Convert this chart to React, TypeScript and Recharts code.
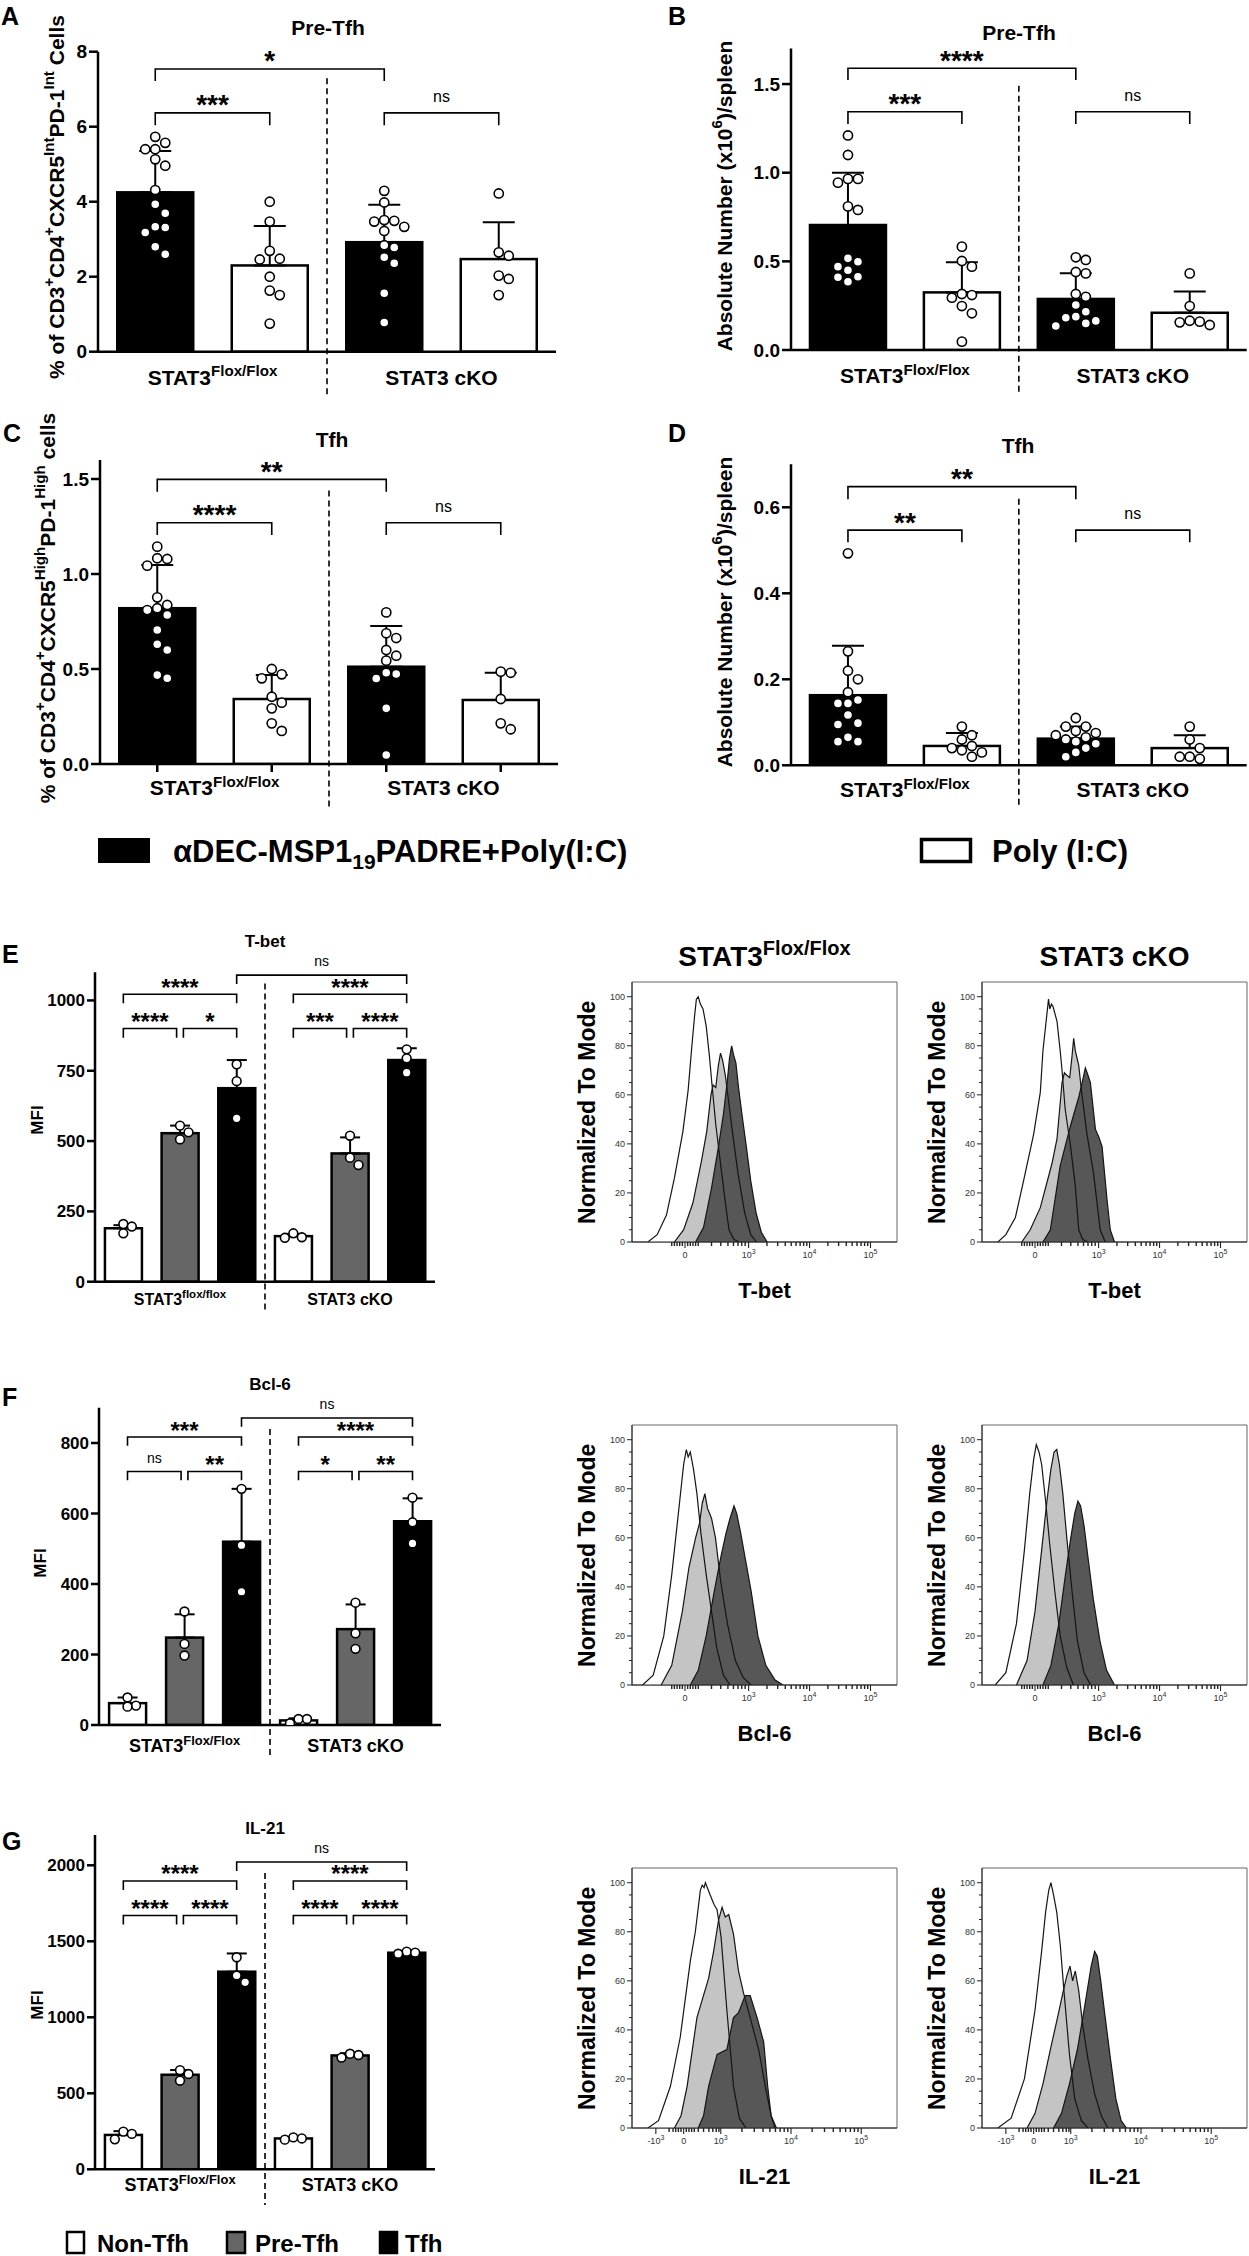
import React from "react";
import {
  Area,
  Bar,
  Cell,
  ComposedChart,
  ErrorBar,
  Line,
  ReferenceArea,
  ReferenceDot,
  ReferenceLine,
  Scatter,
  XAxis,
  YAxis,
} from "recharts";

const FONT = "'Liberation Sans', Arial, Helvetica, sans-serif";

// ---------- A–D: vaccinated (black) vs Poly(I:C) (white), Flox/Flox vs cKO ----------
const adX = [1, 2, 3, 4];
const adFill = ["#000", "#fff", "#000", "#fff"];
const adGroups = [
  { at: 1.5, main: "STAT3", sup: "Flox/Flox" },
  { at: 3.5, main: "STAT3 cKO" },
];

const preTfhPctMean = [4.25, 2.3, 2.92, 2.47];
const preTfhPctSd = [1.1, 1.05, 1.0, 0.98];
const preTfhPctDots = [
  [5.73, 5.57, 5.4, 5.4, 5.13, 4.96, 4.31, 3.93, 3.69, 3.33, 3.31, 3.18, 2.8, 2.6],
  [4.0, 3.47, 2.69, 2.48, 2.46, 2.0, 1.63, 1.51, 0.75],
  [4.29, 3.98, 3.51, 3.49, 3.33, 3.47, 3.22, 2.84, 2.78, 2.52, 2.36, 1.56, 0.78],
  [4.22, 2.65, 2.56, 2.03, 1.94, 1.51],
];
const preTfhPctBrackets = [
  [1, 3, 7.54, 7.22, "*"],
  [1, 2, 6.37, 6.04, "***"],
  [3, 4, 6.37, 6.04, "ns"],
];

const preTfhAbsMean = [0.705, 0.325, 0.288, 0.21];
const preTfhAbsSd = [0.295, 0.17, 0.145, 0.12];
const preTfhAbsDots = [
  [1.21, 1.1, 0.965, 0.944, 0.965, 0.79, 0.81, 0.517, 0.498, 0.47, 0.45, 0.413, 0.41, 0.385],
  [0.583, 0.502, 0.47, 0.316, 0.295, 0.31, 0.207, 0.248, 0.047],
  [0.523, 0.508, 0.432, 0.44, 0.316, 0.3, 0.188, 0.216, 0.254, 0.164, 0.182, 0.15, 0.135],
  [0.432, 0.248, 0.141, 0.165, 0.156, 0.16],
];
const preTfhAbsBrackets = [
  [1, 3, 1.589, 1.523, "****"],
  [1, 2, 1.344, 1.275, "***"],
  [3, 4, 1.344, 1.275, "ns"],
];

const tfhPctMean = [0.82, 0.342, 0.512, 0.337];
const tfhPctSd = [0.227, 0.126, 0.214, 0.143];
const tfhPctDots = [
  [1.144, 1.079, 1.083, 1.044, 0.877, 0.837, 0.82, 0.81, 0.784, 0.705, 0.63, 0.6, 0.468, 0.451],
  [0.5, 0.472, 0.451, 0.354, 0.323, 0.293, 0.214, 0.174],
  [0.798, 0.688, 0.663, 0.6, 0.57, 0.544, 0.48, 0.474, 0.45, 0.293, 0.047],
  [0.486, 0.48, 0.342, 0.214, 0.183],
];
const tfhPctBrackets = [
  [1, 3, 1.498, 1.433, "**"],
  [1, 2, 1.27, 1.205, "****"],
  [3, 4, 1.27, 1.205, "ns"],
];

const tfhAbsMean = [0.163, 0.045, 0.062, 0.04];
const tfhAbsSd = [0.115, 0.03, 0.028, 0.03];
const tfhAbsDots = [
  [0.493, 0.265, 0.22, 0.2, 0.17, 0.152, 0.144, 0.144, 0.117, 0.098, 0.095, 0.065, 0.055, 0.055],
  [0.09, 0.07, 0.06, 0.045, 0.04, 0.035, 0.03, 0.02],
  [0.11, 0.09, 0.09, 0.08, 0.075, 0.07, 0.065, 0.06, 0.055, 0.05, 0.04, 0.03, 0.02],
  [0.09, 0.06, 0.04, 0.02, 0.02, 0.015],
];
const tfhAbsBrackets = [
  [1, 3, 0.648, 0.619, "**"],
  [1, 2, 0.547, 0.519, "**"],
  [3, 4, 0.547, 0.519, "ns"],
];

// ---------- E–G: MFI of Non-Tfh / Pre-Tfh / Tfh ----------
const efgX = [1, 2, 3, 4, 5, 6];
const efgFill = ["#fff", "#666", "#000", "#fff", "#666", "#000"];

const tbetMean = [190, 528, 688, 162, 456, 788];
const tbetSd = [11, 27, 100, 8, 57, 42];
const tbetDots = [
  [205, 196, 172],
  [555, 531, 506],
  [773, 713, 581],
  [158, 172, 156],
  [519, 441, 415],
  [826, 794, 743],
];
const tbetBrackets = [
  [1, 1.94, 900, 867, "****"],
  [2.06, 3, 900, 867, "*"],
  [4, 4.94, 900, 867, "***"],
  [5.06, 6, 900, 867, "****"],
  [1, 3, 1022, 990, "****"],
  [4, 6, 1022, 990, "****"],
  [3, 6, 1090, 1058, "ns"],
];

const bcl6Mean = [62, 248, 520, 13, 272, 578];
const bcl6Sd = [16, 66, 150, 6, 70, 65];
const bcl6Dots = [
  [78, 52, 55],
  [322, 230, 197],
  [670, 510, 378],
  [5, 17, 17],
  [347, 260, 216],
  [645, 575, 515],
];
const bcl6Brackets = [
  [1, 1.94, 719, 694, "ns"],
  [2.06, 3, 719, 694, "**"],
  [4, 4.94, 719, 694, "*"],
  [5.06, 6, 719, 694, "**"],
  [1, 3, 817, 792, "***"],
  [4, 6, 817, 792, "****"],
  [3, 6, 871, 846, "ns"],
];

const il21Mean = [226, 622, 1300, 203, 749, 1425];
const il21Sd = [25, 31, 120, 10, 15, 12];
const il21Dots = [
  [197, 248, 233],
  [652, 627, 583],
  [1395, 1275, 1230],
  [195, 210, 203],
  [752, 760, 735],
  [1432, 1425, 1418],
];
const il21Brackets = [
  [1, 1.94, 1670, 1610, "****"],
  [2.06, 3, 1670, 1610, "****"],
  [4, 4.94, 1670, 1610, "****"],
  [5.06, 6, 1670, 1610, "****"],
  [1, 3, 1897, 1838, "****"],
  [4, 6, 1897, 1838, "****"],
  [3, 6, 2022, 1963, "ns"],
];

// ---------- flow histograms (x = display channel 0–1000, y = % of mode) ----------
const tbetFloxNon = [[60, 0], [95, 3], [130, 11], [160, 26], [192, 45], [212, 62], [226, 80], [236, 92], [243, 99], [250, 100], [258, 97], [268, 95], [280, 88], [292, 76], [302, 64], [316, 48], [333, 33], [350, 18], [366, 5], [385, 1], [405, 0]];
const tbetFloxPre = [[160, 0], [195, 5], [230, 16], [262, 33], [282, 45], [298, 60], [306, 64], [316, 63], [326, 72], [334, 77], [342, 74], [352, 68], [364, 58], [380, 44], [400, 28], [425, 12], [448, 3], [470, 0]];
const tbetFloxTfh = [[240, 0], [270, 6], [300, 22], [325, 38], [345, 52], [360, 66], [368, 75], [376, 80], [384, 76], [392, 73], [402, 63], [415, 52], [430, 40], [448, 25], [468, 12], [488, 4], [510, 0]];

const tbetCkoNon = [[60, 0], [90, 3], [126, 10], [157, 25], [195, 44], [220, 61], [230, 78], [245, 93], [251, 99], [256, 95], [262, 97], [268, 96], [283, 90], [295, 78], [302, 70], [314, 54], [333, 40], [352, 23], [365, 5], [380, 1], [400, 0]];
const tbetCkoPre = [[150, 0], [182, 5], [220, 14], [264, 32], [283, 42], [302, 65], [311, 69], [320, 68], [331, 67], [339, 75], [346, 83], [352, 78], [365, 72], [374, 63], [396, 44], [421, 28], [446, 5], [465, 0]];
const tbetCkoTfh = [[230, 0], [258, 5], [295, 31], [333, 47], [365, 59], [380, 66], [390, 71], [400, 68], [409, 65], [428, 46], [440, 43], [453, 39], [472, 17], [484, 5], [500, 0]];

const bcl6FloxNon = [[40, 0], [80, 4], [120, 20], [150, 45], [170, 65], [185, 80], [195, 90], [205, 96], [212, 93], [220, 95], [232, 88], [245, 78], [260, 62], [280, 45], [300, 30], [320, 15], [345, 4], [370, 0]];
const bcl6FloxPre = [[110, 0], [150, 8], [190, 30], [215, 48], [240, 60], [255, 66], [265, 74], [275, 78], [285, 72], [300, 68], [315, 60], [335, 42], [360, 25], [390, 10], [420, 3], [450, 0]];
const bcl6FloxTfh = [[220, 0], [250, 6], [280, 20], [310, 38], [335, 52], [355, 62], [370, 68], [385, 73], [395, 70], [410, 62], [430, 50], [450, 38], [475, 20], [505, 8], [540, 2], [570, 0]];

const bcl6CkoNon = [[50, 0], [90, 5], [130, 25], [160, 55], [180, 78], [195, 92], [205, 98], [215, 95], [225, 90], [240, 75], [255, 58], [275, 38], [295, 20], [320, 7], [345, 0]];
const bcl6CkoPre = [[130, 0], [170, 10], [200, 30], [225, 55], [245, 75], [260, 88], [272, 95], [282, 96], [292, 90], [305, 78], [320, 60], [340, 38], [360, 18], [385, 5], [410, 0]];
const bcl6CkoTfh = [[230, 0], [260, 8], [290, 25], [315, 45], [335, 60], [350, 70], [362, 75], [372, 73], [385, 65], [400, 52], [420, 35], [445, 18], [470, 6], [500, 0]];

const il21FloxNon = [[60, 0], [100, 3], [145, 17], [182, 37], [220, 68], [239, 80], [258, 97], [265, 99], [272, 98], [277, 100], [295, 95], [310, 91], [321, 89], [336, 78], [358, 48], [383, 17], [405, 4], [430, 0]];
const il21FloxPre = [[160, 0], [185, 5], [208, 17], [245, 45], [289, 61], [308, 72], [327, 85], [340, 90], [352, 86], [365, 87], [383, 79], [402, 64], [421, 55], [446, 45], [478, 32], [503, 17], [525, 5], [545, 0]];
const il21FloxTfh = [[250, 0], [270, 5], [289, 17], [321, 30], [358, 32], [383, 45], [402, 47], [427, 54], [446, 54], [472, 45], [497, 35], [512, 17], [525, 5], [540, 0]];

const il21CkoNon = [[60, 0], [110, 4], [160, 20], [200, 48], [225, 72], [240, 88], [252, 97], [260, 100], [270, 95], [282, 88], [295, 75], [310, 55], [330, 30], [350, 12], [375, 3], [400, 0]];
const il21CkoPre = [[170, 0], [200, 6], [230, 18], [260, 33], [285, 45], [305, 55], [320, 62], [332, 66], [342, 60], [352, 64], [365, 56], [380, 42], [400, 28], [425, 14], [450, 5], [475, 0]];
const il21CkoTfh = [[270, 0], [300, 6], [330, 18], [360, 32], [385, 48], [400, 58], [412, 66], [425, 72], [435, 70], [448, 60], [465, 45], [485, 28], [505, 12], [525, 3], [545, 0]];

const histYTicks = [0, 5, 10, 15, 20, 25, 30, 35, 40, 45, 50, 55, 60, 65, 70, 75, 80, 85, 90, 95, 100];
const stdMajor = [200, 440, 670, 900];
const stdLabels = [["0", ""], ["10", "3"], ["10", "4"], ["10", "5"]];
const il21Major = [90, 195, 335, 600, 865];
const il21Labels = [["-10", "3"], ["0", ""], ["10", "3"], ["10", "4"], ["10", "5"]];

// minor ticks: log decades plus the dense linear region round zero
const decade = (start: number, w: number) => [2, 3, 4, 5, 6, 7, 8, 9].map((k) => start + w * Math.log10(k));
const stdMinor = [
  150, 160, 170, 180, 190, 210, 220, 230, 240, 250,
  300, 335, 362, 383, 400, 414, 427,
  ...decade(440, 230),
  ...decade(670, 230),
];
const il21Minor = [
  140, 155, 165, 175, 185, 205, 215, 225, 235, 250,
  270, 290, 305, 318, 328,
  ...decade(335, 265),
  ...decade(600, 265),
];

// ---------- helpers ----------
function swarm(values: number[], center: number, pxX: number, pxY: number, step: number, minDist: number) {
  const placed: { dx: number; v: number }[] = [];
  const order = values.map((_, i) => i).sort((a, b) => values[b] - values[a]);
  for (const i of order) {
    const v = values[i];
    let dx = 0;
    for (let n = 0; n < 40; n++) {
      const cand = n === 0 ? 0 : (n % 2 ? 1 : -1) * Math.ceil(n / 2) * step;
      if (placed.every((p) => Math.hypot(p.dx - cand, (p.v - v) * pxY) >= minDist)) {
        dx = cand;
        break;
      }
    }
    placed.push({ dx, v });
  }
  return placed.map((p) => ({ x: center + p.dx / pxX, v: p.v }));
}

function GroupTick({ x, y, payload, groups, font, dy, marks }: any) {
  const g = groups.find((gr: any) => Math.abs(gr.at - payload.value) < 1e-6);
  if (!g) {
    return marks ? <line x1={x} x2={x} y1={y - 2} y2={y + 6} stroke="#000" strokeWidth={2.5} /> : <g />;
  }
  return (
    <text x={x} y={y + dy} textAnchor="middle" fontSize={font} fontWeight={700} fontFamily={FONT} fill="#000">
      {g.main}
      {g.sup && (
        <tspan dy={-font * 0.4} fontSize={font * 0.72}>
          {g.sup}
        </tspan>
      )}
    </text>
  );
}

function brackets(list: any[], o: { star: number; ns: number; nsLift: number; sw: number }) {
  return list.flatMap((b, i) => [
    <ReferenceArea
      key={`a${i}`}
      x1={b[0]}
      x2={b[1]}
      y1={b[3]}
      y2={b[2]}
      ifOverflow="visible"
      shape={(s: any) => (
        <path
          d={`M${s.x},${s.y + s.height}V${s.y}H${s.x + s.width}V${s.y + s.height}`}
          fill="none"
          stroke="#000"
          strokeWidth={o.sw}
        />
      )}
    />,
    <ReferenceDot
      key={`t${i}`}
      x={(b[0] + b[1]) / 2}
      y={b[2]}
      r={0}
      ifOverflow="visible"
      shape={(s: any) =>
        b[4] === "ns" ? (
          <text x={s.cx} y={s.cy - o.nsLift} textAnchor="middle" fontSize={o.ns} fontFamily={FONT} fill="#000">
            ns
          </text>
        ) : (
          <text x={s.cx} y={s.cy + 1.5} textAnchor="middle" fontSize={o.star} fontWeight={700} fontFamily={FONT} fill="#000">
            {b[4]}
          </text>
        )
      }
    />,
  ]);
}

function BarDots(p: any) {
  const g = p.geo;
  const pxX = (g.pr - g.pl) / (p.xDomain[1] - p.xDomain[0]);
  const pxY = (g.pb - g.pt) / (p.yDomain[1] - p.yDomain[0]);
  const bars = p.xs.map((x: number, i: number) => ({ x, m: p.means[i], err: [0, p.sd[i]] }));
  const dots = p.dots.flatMap((vals: number[], i: number) => swarm(vals, p.xs[i], pxX, pxY, p.step, p.minDist));
  const ticks = [...p.groups.map((gr: any) => gr.at), ...(p.barTicks ? p.xs : [])];
  const r = p.dotR;
  const bw = p.barSize;
  return (
    <div style={{ position: "absolute", left: g.left, top: g.top }}>
      <ComposedChart
        width={g.width}
        height={g.height}
        data={bars}
        margin={{ top: g.pt - g.top, right: g.left + g.width - g.pr, bottom: 0, left: 0 }}
      >
        <XAxis
          type="number"
          dataKey="x"
          domain={p.xDomain}
          allowDataOverflow
          ticks={ticks}
          interval={0}
          height={g.top + g.height - g.pb}
          tickLine={false}
          tickSize={0}
          axisLine={{ stroke: "#000", strokeWidth: 2.5 }}
          tick={(t: any) => <GroupTick {...t} groups={p.groups} font={p.groupFont} dy={p.groupDy} marks={p.barTicks} />}
        />
        <YAxis
          type="number"
          domain={p.yDomain}
          allowDataOverflow
          ticks={p.yTicks}
          interval={0}
          width={g.pl - g.left}
          tickSize={p.tickSize}
          tickFormatter={p.fmt}
          tick={{ fontSize: p.tickFont, fontWeight: 700, fill: "#000", fontFamily: FONT }}
          tickLine={{ stroke: "#000", strokeWidth: 2.5 }}
          axisLine={{ stroke: "#000", strokeWidth: 2.5 }}
        />
        <ReferenceLine
          segment={[
            { x: p.divider[0], y: p.divider[1] },
            { x: p.divider[0], y: p.divider[2] },
          ]}
          ifOverflow="visible"
          stroke="#000"
          strokeWidth={1.6}
          strokeDasharray="6 4"
        />
        <Bar
          dataKey="m"
          isAnimationActive={false}
          shape={(s: any) => (
            <rect
              x={s.x + s.width / 2 - bw / 2}
              y={s.y}
              width={bw}
              height={Math.max(0, s.height)}
              fill={s.fill}
              stroke="#000"
              strokeWidth={2.5}
            />
          )}
        >
          {p.fills.map((f: string, i: number) => (
            <Cell key={i} fill={f} />
          ))}
          <ErrorBar dataKey="err" width={p.capHalf} stroke="#000" strokeWidth={2} direction="y" />
        </Bar>
        <Scatter
          data={dots}
          dataKey="v"
          isAnimationActive={false}
          shape={(s: any) => <circle cx={s.cx} cy={s.cy} r={r} fill="#fff" stroke="#000" strokeWidth={1.6} />}
        />
        {brackets(p.brackets, p.br)}
      </ComposedChart>
    </div>
  );
}

function HistXTick({ x, y, payload, major, labels }: any) {
  const idx = major.findIndex((m: number) => Math.abs(m - payload.value) < 1e-6);
  const isMajor = idx >= 0;
  const lab = isMajor ? labels[idx] : null;
  return (
    <g>
      <line x1={x} x2={x} y1={y - 2} y2={y + (isMajor ? 4 : 2)} stroke="#222" strokeWidth={isMajor ? 1.1 : 1.4} />
      {lab && (
        <text x={x} y={y + 14} textAnchor="middle" fontSize={9} fill="#333" fontFamily={FONT}>
          {lab[0]}
          {lab[1] && (
            <tspan dy={-4} fontSize={7}>
              {lab[1]}
            </tspan>
          )}
        </text>
      )}
    </g>
  );
}

function HistYTick({ x, y, payload }: any) {
  const v = payload.value;
  const major = v % 20 === 0;
  const ax = x + 2;
  return (
    <g>
      <line x1={ax} x2={ax - (major ? 5 : 3)} y1={y} y2={y} stroke="#222" strokeWidth={1} />
      {major && (
        <text x={ax - 7} y={y + 3} textAnchor="end" fontSize={9} fill="#333" fontFamily={FONT}>
          {v}
        </text>
      )}
    </g>
  );
}

const HW = 265;
const HH = 260;
const histCols = [632, 982];
const histRows = [982.3, 1425.3, 1868.4];

function Histo({ pl, pt, non, pre, tfh, major, labels, minor }: any) {
  // one table, built from the three curves, sampled at the union of their x values
  const xs = Array.from(new Set([...non, ...pre, ...tfh].map((d: number[]) => d[0]))).sort((a, b) => a - b);
  const look = (arr: number[][], x: number) => {
    const hit = arr.find((d) => d[0] === x);
    return hit ? hit[1] : undefined;
  };
  const rows = xs.map((x) => ({ x, non: look(non, x), pre: look(pre, x), tfh: look(tfh, x) }));
  const yw = 72;
  const mt = 12;
  const xh = 60;
  return (
    <div style={{ position: "absolute", left: pl - yw, top: pt - mt }}>
      <ComposedChart width={yw + HW + 2} height={mt + HH + xh} data={rows} margin={{ top: mt, right: 2, left: 0, bottom: 0 }}>
        <XAxis
          type="number"
          dataKey="x"
          domain={[0, 1000]}
          allowDataOverflow
          ticks={[...major, ...minor]}
          interval={0}
          height={xh}
          tickLine={false}
          tickSize={0}
          axisLine={{ stroke: "#222", strokeWidth: 1 }}
          tick={(t: any) => <HistXTick {...t} major={major} labels={labels} />}
        />
        <YAxis
          type="number"
          domain={[0, 106]}
          allowDataOverflow
          ticks={histYTicks}
          interval={0}
          width={yw}
          tickLine={false}
          tickSize={0}
          axisLine={{ stroke: "#222", strokeWidth: 1 }}
          tick={(t: any) => <HistYTick {...t} />}
        />
        <ReferenceArea x1={0} x2={1000} y1={0} y2={106} fill="none" stroke="#666" strokeWidth={1} ifOverflow="visible" />
        <Area dataKey="non" type="linear" connectNulls fill="#fff" fillOpacity={1} stroke="none" isAnimationActive={false} />
        <Area dataKey="pre" type="linear" connectNulls fill="#c4c4c4" fillOpacity={1} stroke="none" isAnimationActive={false} />
        <Area dataKey="tfh" type="linear" connectNulls fill="#575757" fillOpacity={1} stroke="none" isAnimationActive={false} />
        <Line dataKey="non" type="linear" connectNulls stroke="#151515" strokeWidth={1.2} dot={false} isAnimationActive={false} />
        <Line dataKey="pre" type="linear" connectNulls stroke="#151515" strokeWidth={1.2} dot={false} isAnimationActive={false} />
        <Line dataKey="tfh" type="linear" connectNulls stroke="#151515" strokeWidth={1.2} dot={false} isAnimationActive={false} />
      </ComposedChart>
    </div>
  );
}

const fmt1 = (v: number) => v.toFixed(1);
const fmt0 = (v: number) => String(v);

const adCommon = {
  xs: adX,
  fills: adFill,
  groups: adGroups,
  xDomain: [0.5, 4.5],
  groupFont: 21,
  tickFont: 19,
  tickSize: 9,
  barSize: 76,
  capHalf: 16,
  step: 10,
  minDist: 10,
  dotR: 4.6,
  br: { star: 28, ns: 16, nsLift: 11, sw: 1.6 },
};

const efgCommon = {
  xs: efgX,
  fills: efgFill,
  xDomain: [0.5, 6.5],
  tickFont: 17,
  tickSize: 8,
  barSize: 37,
  capHalf: 10,
  step: 8.5,
  minDist: 8.5,
  dotR: 4.4,
  br: { star: 24, ns: 14, nsLift: 9, sw: 1.6 },
};

// rotated axis title built from plain / superscript pieces
function VTitle({ x, y, size, parts }: any) {
  const up = size * 0.38;
  let shifted = false;
  return (
    <text
      transform={`translate(${x},${y}) rotate(-90)`}
      textAnchor="middle"
      dominantBaseline="central"
      fontSize={size}
      fontWeight={700}
      fontFamily={FONT}
      fill="#000"
    >
      {parts.map((pt: [string, boolean], i: number) => {
        const [txt, sup] = pt;
        let dy = 0;
        if (sup && !shifted) dy = -up;
        if (!sup && shifted) dy = up;
        shifted = sup;
        return (
          <tspan key={i} dy={dy} fontSize={sup ? size * 0.72 : size}>
            {txt}
          </tspan>
        );
      })}
    </text>
  );
}

const pctIntTitle = [["% of CD3", false], ["+", true], ["CD4", false], ["+", true], ["CXCR5", false], ["Int", true], ["PD-1", false], ["Int", true], [" Cells", false]];
const pctHighTitle = [["% of CD3", false], ["+", true], ["CD4", false], ["+", true], ["CXCR5", false], ["High", true], ["PD-1", false], ["High", true], [" cells", false]];
const absTitle = [["Absolute Number (x10", false], ["6", true], [")/spleen", false]];

function Overlay() {
  const b = { fontFamily: FONT, fontWeight: 700, fill: "#000" };
  const rot = (x: number, y: number) => `translate(${x},${y}) rotate(-90)`;
  return (
    <svg width={1249} height={2256} style={{ position: "absolute", left: 0, top: 0, pointerEvents: "none" }}>
      {/* panel letters */}
      <text x={1} y={25} fontSize={25} {...b}>A</text>
      <text x={668} y={25} fontSize={25} {...b}>B</text>
      <text x={3} y={442} fontSize={25} {...b}>C</text>
      <text x={668} y={442} fontSize={25} {...b}>D</text>
      <text x={2} y={963} fontSize={25} {...b}>E</text>
      <text x={2} y={1406} fontSize={25} {...b}>F</text>
      <text x={2} y={1850} fontSize={25} {...b}>G</text>

      {/* titles */}
      <text x={328} y={35} fontSize={21} textAnchor="middle" {...b}>Pre-Tfh</text>
      <text x={1019} y={40} fontSize={21} textAnchor="middle" {...b}>Pre-Tfh</text>
      <text x={332} y={447} fontSize={21} textAnchor="middle" {...b}>Tfh</text>
      <text x={1018} y={453} fontSize={21} textAnchor="middle" {...b}>Tfh</text>
      <text x={265} y={947} fontSize={17} textAnchor="middle" {...b}>T-bet</text>
      <text x={270} y={1390} fontSize={17} textAnchor="middle" {...b}>Bcl-6</text>
      <text x={265} y={1834} fontSize={17} textAnchor="middle" {...b}>IL-21</text>

      {/* y-axis titles */}
      <VTitle x={56} y={197} size={21} parts={pctIntTitle} />
      <VTitle x={724} y={196} size={21} parts={absTitle} />
      <VTitle x={47} y={608} size={21} parts={pctHighTitle} />
      <VTitle x={724} y={612} size={21} parts={absTitle} />
      <text transform={rot(37, 1120)} textAnchor="middle" dominantBaseline="central" fontSize={17} {...b}>MFI</text>
      <text transform={rot(40, 1563)} textAnchor="middle" dominantBaseline="central" fontSize={17} {...b}>MFI</text>
      <text transform={rot(37, 2005)} textAnchor="middle" dominantBaseline="central" fontSize={17} {...b}>MFI</text>

      {/* vaccine legend */}
      <rect x={98} y={838} width={52} height={25} fill="#000" />
      <text x={173} y={862} fontSize={31} {...b}>
        αDEC-MSP1
        <tspan dy={7} fontSize={21}>19</tspan>
        <tspan dy={-7}>PADRE+Poly(I:C)</tspan>
      </text>
      <rect x={921.5} y={839.5} width={49} height={22} fill="#fff" stroke="#000" strokeWidth={3.5} />
      <text x={992} y={862} fontSize={31} {...b}>Poly (I:C)</text>

      {/* histogram headers and labels */}
      <text x={histCols[0] + HW / 2} y={966} fontSize={28} textAnchor="middle" {...b}>
        STAT3<tspan dy={-11} fontSize={20}>Flox/Flox</tspan>
      </text>
      <text x={histCols[1] + HW / 2} y={966} fontSize={28} textAnchor="middle" {...b}>STAT3 cKO</text>
      {histRows.map((row, ri) =>
        histCols.map((col, ci) => (
          <g key={`${ri}-${ci}`}>
            <text transform={rot(col - 45, row + HH / 2)} textAnchor="middle" dominantBaseline="central" fontSize={23} {...b}>
              Normalized To Mode
            </text>
            <text x={col + HW / 2} y={row + HH + 56} fontSize={22} textAnchor="middle" {...b}>
              {["T-bet", "Bcl-6", "IL-21"][ri]}
            </text>
          </g>
        ))
      )}

      {/* cell-type legend */}
      <rect x={67} y={2232} width={17} height={21} fill="#fff" stroke="#000" strokeWidth={2.5} />
      <text x={97} y={2252} fontSize={24} {...b}>Non-Tfh</text>
      <rect x={227} y={2232} width={18} height={21} fill="#666" stroke="#000" strokeWidth={2.5} />
      <text x={255} y={2252} fontSize={24} {...b}>Pre-Tfh</text>
      <rect x={380} y={2232} width={17} height={21} fill="#000" stroke="#000" strokeWidth={2.5} />
      <text x={405} y={2252} fontSize={24} {...b}>Tfh</text>
    </svg>
  );
}

export default function App() {
  return (
    <div style={{ position: "relative", width: 1249, height: 2256, background: "#fff", overflow: "hidden", fontFamily: FONT }}>
      <style>{"body{margin:0}"}</style>

      <BarDots
        {...adCommon}
        geo={{ left: 0, top: 0, width: 570, height: 410, pl: 98, pr: 556, pt: 51.7, pb: 351.7 }}
        means={preTfhPctMean}
        sd={preTfhPctSd}
        dots={preTfhPctDots}
        yDomain={[0, 8]}
        yTicks={[0, 2, 4, 6, 8]}
        fmt={fmt0}
        brackets={preTfhPctBrackets}
        divider={[2.5, 7.29, -1.15]}
        groupDy={31}
      />
      <BarDots
        {...adCommon}
        geo={{ left: 680, top: 0, width: 569, height: 410, pl: 791, pr: 1246.7, pt: 48.6, pb: 350 }}
        means={preTfhAbsMean}
        sd={preTfhAbsSd}
        dots={preTfhAbsDots}
        yDomain={[0, 1.7]}
        yTicks={[0, 0.5, 1, 1.5]}
        fmt={fmt1}
        brackets={preTfhAbsBrackets}
        divider={[2.5, 1.49, -0.25]}
        groupDy={31}
      />
      <BarDots
        {...adCommon}
        geo={{ left: 0, top: 420, width: 572, height: 410, pl: 100, pr: 558, pt: 460, pb: 764 }}
        means={tfhPctMean}
        sd={tfhPctSd}
        dots={tfhPctDots}
        yDomain={[0, 1.6]}
        yTicks={[0, 0.5, 1, 1.5]}
        fmt={fmt1}
        brackets={tfhPctBrackets}
        divider={[2.5, 1.44, -0.225]}
        groupDy={29}
        barTicks
      />
      <BarDots
        {...adCommon}
        geo={{ left: 680, top: 420, width: 569, height: 410, pl: 791, pr: 1246.7, pt: 464.3, pb: 765.3 }}
        means={tfhAbsMean}
        sd={tfhAbsSd}
        dots={tfhAbsDots}
        yDomain={[0, 0.7]}
        yTicks={[0, 0.2, 0.4, 0.6]}
        fmt={fmt1}
        brackets={tfhAbsBrackets}
        divider={[2.5, 0.62, -0.1]}
        groupDy={30}
      />

      <BarDots
        {...efgCommon}
        geo={{ left: 0, top: 930, width: 450, height: 390, pl: 95, pr: 435, pt: 972.3, pb: 1281.7 }}
        means={tbetMean}
        sd={tbetSd}
        dots={tbetDots}
        yDomain={[0, 1100]}
        yTicks={[0, 250, 500, 750, 1000]}
        fmt={fmt0}
        brackets={tbetBrackets}
        divider={[3.5, 1060, -110]}
        groups={[
          { at: 2, main: "STAT3", sup: "flox/flox" },
          { at: 5, main: "STAT3 cKO" },
        ]}
        groupFont={16}
        groupDy={21}
      />
      <BarDots
        {...efgCommon}
        geo={{ left: 0, top: 1370, width: 455, height: 395, pl: 99, pr: 441, pt: 1407.75, pb: 1725 }}
        means={bcl6Mean}
        sd={bcl6Sd}
        dots={bcl6Dots}
        yDomain={[0, 900]}
        yTicks={[0, 200, 400, 600, 800]}
        fmt={fmt0}
        brackets={bcl6Brackets}
        divider={[3.5, 840, -90]}
        groups={[
          { at: 2, main: "STAT3", sup: "Flox/Flox" },
          { at: 5, main: "STAT3 cKO" },
        ]}
        groupFont={18}
        groupDy={25}
      />
      <BarDots
        {...efgCommon}
        geo={{ left: 0, top: 1800, width: 450, height: 410, pl: 95, pr: 435, pt: 1834.9, pb: 2169.3 }}
        means={il21Mean}
        sd={il21Sd}
        dots={il21Dots}
        yDomain={[0, 2200]}
        yTicks={[0, 500, 1000, 1500, 2000]}
        fmt={fmt0}
        brackets={il21Brackets}
        divider={[3.5, 1950, -235]}
        groups={[
          { at: 2, main: "STAT3", sup: "Flox/Flox" },
          { at: 5, main: "STAT3 cKO" },
        ]}
        groupFont={18}
        groupDy={20}
      />

      <Histo pl={histCols[0]} pt={histRows[0]} non={tbetFloxNon} pre={tbetFloxPre} tfh={tbetFloxTfh} major={stdMajor} labels={stdLabels} minor={stdMinor} />
      <Histo pl={histCols[1]} pt={histRows[0]} non={tbetCkoNon} pre={tbetCkoPre} tfh={tbetCkoTfh} major={stdMajor} labels={stdLabels} minor={stdMinor} />
      <Histo pl={histCols[0]} pt={histRows[1]} non={bcl6FloxNon} pre={bcl6FloxPre} tfh={bcl6FloxTfh} major={stdMajor} labels={stdLabels} minor={stdMinor} />
      <Histo pl={histCols[1]} pt={histRows[1]} non={bcl6CkoNon} pre={bcl6CkoPre} tfh={bcl6CkoTfh} major={stdMajor} labels={stdLabels} minor={stdMinor} />
      <Histo pl={histCols[0]} pt={histRows[2]} non={il21FloxNon} pre={il21FloxPre} tfh={il21FloxTfh} major={il21Major} labels={il21Labels} minor={il21Minor} />
      <Histo pl={histCols[1]} pt={histRows[2]} non={il21CkoNon} pre={il21CkoPre} tfh={il21CkoTfh} major={il21Major} labels={il21Labels} minor={il21Minor} />

      <Overlay />
    </div>
  );
}
